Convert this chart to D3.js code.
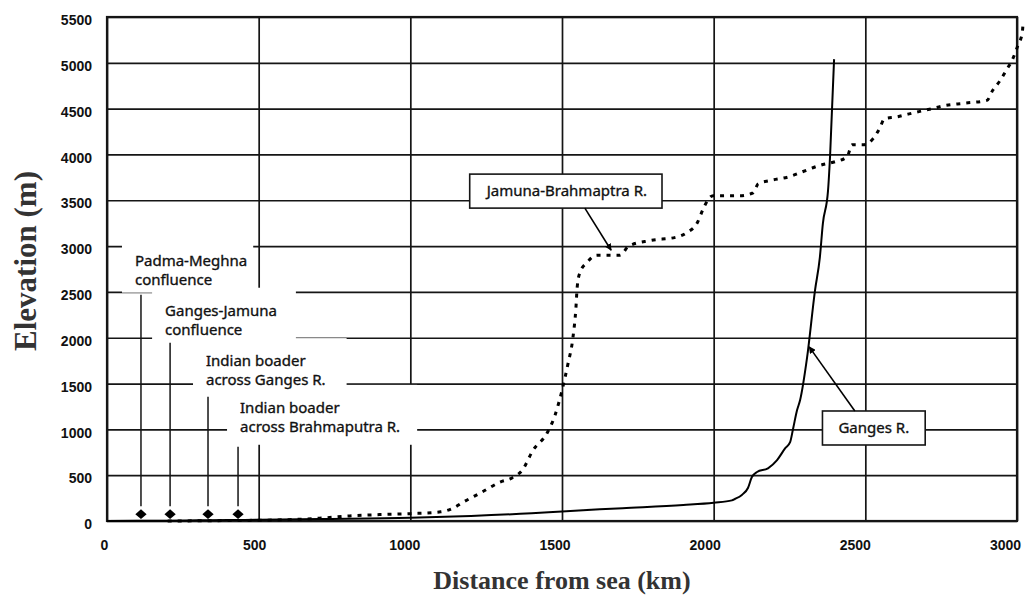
<!DOCTYPE html>
<meta charset="utf-8">
<style>
    body { margin: 0; background: #fff; }
    svg { display: block; }
</style>

<script src="https://cdn.jsdelivr.net/npm/d3@7"></script>

<svg id="chart" width="1031" height="595"></svg>

<script>

// Data (distance from sea in km, elevation in m)

var xTicks = [0, 500, 1000, 1500, 2000, 2500, 3000];
var yTicks = [0, 500, 1000, 1500, 2000, 2500, 3000, 3500, 4000, 4500, 5000, 5500];

var gangesKm   = [0, 100, 200, 300, 400, 500, 700, 1000, 1200, 1400, 1500, 1700, 1900, 2000, 2060,
                  2070, 2093, 2113, 2126, 2143, 2179, 2209, 2236, 2252, 2262, 2275, 2285, 2308,
                  2334, 2350, 2360, 2377, 2384, 2397];
var gangesElev = [0, 2, 4, 7, 10, 14, 22, 35, 55, 85, 105, 140, 175, 200, 225,
                  240, 285, 360, 480, 535, 575, 665, 795, 860, 1010, 1210, 1320, 1785,
                  2515, 2875, 3245, 3605, 4000, 5040];

var jamunaKm   = [200, 300, 400, 500, 600, 700, 800, 900, 1000, 1100, 1141, 1174, 1236, 1296,
                  1335, 1369, 1405, 1451, 1477, 1500, 1520, 1536, 1546, 1550, 1559, 1582, 1615,
                  1691, 1720, 1790, 1880, 1913, 1946, 1966, 1980, 1998, 2087, 2130, 2147, 2186,
                  2252, 2292, 2327, 2360, 2400, 2440, 2456, 2492, 2525, 2548, 2563, 2604, 2641,
                  2680, 2720, 2756, 2829, 2901, 2920, 2944, 2967, 2987, 3004, 3017, 3020];
var jamunaElev = [0, 2, 5, 8, 15, 30, 55, 70, 80, 100, 140, 205, 315, 425,
                  470, 555, 775, 960, 1155, 1425, 1720, 2000, 2330, 2550, 2710, 2820, 2900,
                  2900, 3000, 3060, 3100, 3150, 3255, 3410, 3500, 3550, 3550, 3580, 3680, 3715,
                  3760, 3810, 3855, 3890, 3920, 3975, 4105, 4105, 4170, 4290, 4390, 4410, 4440,
                  4470, 4500, 4530, 4560, 4590, 4700, 4805, 4930, 5050, 5200, 5320, 5430];

// Point markers along the lower river, with their callout texts
var markerKm   = [112, 208, 333, 432];
var markerElev = [75, 75, 75, 75];
var markerText = [
    ['Padma-Meghna', 'confluence'],
    ['Ganges-Jamuna', 'confluence'],
    ['Indian boader', 'across Ganges R.'],
    ['Indian boader', 'across Brahmaputra R.']
];
var markerLabelElev = [2780, 2240, 1690, 1180];   // elevation of first text line baseline
var markerLineTop   = [2470, 1945, 1355, 810];    // where the leader line begins

var riverNames   = ['Jamuna-Brahmaptra R.', 'Ganges R.'];
var riverBoxKm   = [1516, 2528];      // box centres
var riverBoxEl   = [3600, 1015];
var riverArrowKm = [1662, 2315];      // arrow tips on the curves
var riverArrowEl = [2955, 1900];


// Setup

var svg = d3.select('svg#chart');

var plotLeft = 107, plotRight = 1017, plotTop = 17, plotBottom = 521;
var plotW = plotRight - plotLeft, plotH = plotBottom - plotTop;

var x = d3.scaleLinear().domain([0, 3000]).range([plotLeft, plotRight]);
var y = d3.scaleLinear().domain([0, 5500]).range([plotBottom, plotTop]);
// the original's distance labels sit on a slightly tighter pitch than its grid
var xLabel = d3.scaleLinear().domain([0, 3000]).range([104, 1005]);

var ink = '#151515';
var tickFont = '"Liberation Sans", Arial, sans-serif';

// Grid + tick labels through the axes

var yAxis = svg.append('g')
    .attr('transform', 'translate(' + plotLeft + ',0)')
    .call(d3.axisLeft(y).tickValues(yTicks).tickFormat(d3.format('d'))
        .tickSize(-plotW).tickPadding(15));

var xGrid = svg.append('g')
    .attr('transform', 'translate(0,' + plotBottom + ')')
    .call(d3.axisBottom(x).tickValues(xTicks).tickFormat('').tickSize(-plotH));

var xAxis = svg.append('g')
    .attr('transform', 'translate(0,' + plotBottom + ')')
    .call(d3.axisBottom(xLabel).tickValues(xTicks).tickFormat(d3.format('d'))
        .tickSize(0).tickPadding(19));

[xGrid, xAxis, yAxis].forEach(function (g) {
    g.select('.domain').remove();
    g.selectAll('.tick line').attr('stroke', ink).attr('stroke-width', 1.7);
    g.selectAll('.tick text')
        .attr('fill', '#111')
        .style('font-family', tickFont)
        .style('font-weight', 'bold')
        .style('font-size', '14px');
});
yAxis.selectAll('.tick text').attr('dy', '0.55em');

svg.append('rect')
    .attr('x', plotLeft).attr('y', plotTop)
    .attr('width', plotW).attr('height', plotH)
    .attr('fill', 'none').attr('stroke', ink).attr('stroke-width', 2.2);


// Marker callouts (white boxes hide the grid behind the text)

var padRight = [6, 19, 21, 17];
var textShift = [6, 5, 2, -2];
var labelFont = '"Noto Sans", "DejaVu Sans", sans-serif';

var boxLayer = svg.append('g');
var textLayer = svg.append('g');

markerText.forEach(function (lines, i) {
    var tx = x(markerKm[i]) - textShift[i];
    var ty = y(markerLabelElev[i]);
    var box = boxLayer.append('rect').attr('fill', '#fff');
    var t = textLayer.append('text')
        .attr('x', tx).attr('y', ty)
        .style('font-family', labelFont)
        .style('font-size', '15px')
        .attr('fill', '#111')
        .attr('stroke', '#111').attr('stroke-width', 0.35);
    lines.forEach(function (s, j) {
        t.append('tspan').attr('x', tx).attr('dy', j === 0 ? 0 : 19).text(s);
    });
    var bb = t.node().getBBox();
    box.attr('x', bb.x - 13).attr('y', bb.y - 12)
        .attr('width', bb.width + 13 + padRight[i])
        .attr('height', y(markerLineTop[i]) - 2 - (bb.y - 12));

    svg.append('line')
        .attr('x1', x(markerKm[i])).attr('x2', x(markerKm[i]))
        .attr('y1', y(markerLineTop[i])).attr('y2', y(markerElev[i]) - 8)
        .attr('stroke', ink).attr('stroke-width', 1.5);
});

svg.selectAll('path.marker')
    .data(markerKm)
    .enter().append('path')
    .attr('class', 'marker')
    .attr('d', d3.symbol().type(d3.symbolSquare).size(58))
    .attr('transform', function (d, i) {
        return 'translate(' + x(d) + ',' + y(markerElev[i]) + ') scale(1.05,0.9) rotate(45)';
    })
    .attr('fill', '#000');


// River profiles

var line = d3.line()
    .x(function (d) { return x(d[0]); })
    .y(function (d) { return y(d[1]); })
    .curve(d3.curveMonotoneX);

svg.append('path')
    .datum(d3.zip(gangesKm, gangesElev))
    .attr('d', line)
    .attr('fill', 'none')
    .attr('stroke', '#000')
    .attr('stroke-width', 2);

svg.append('path')
    .datum(d3.zip(jamunaKm, jamunaElev))
    .attr('d', line)
    .attr('fill', 'none')
    .attr('stroke', '#000')
    .attr('stroke-width', 3)
    .attr('stroke-dasharray', '4,6');


// River name boxes with arrows

svg.append('defs').append('marker')
    .attr('id', 'head')
    .attr('viewBox', '0 0 10 10')
    .attr('refX', 9).attr('refY', 5)
    .attr('markerWidth', 7).attr('markerHeight', 7)
    .attr('markerUnits', 'userSpaceOnUse')
    .attr('orient', 'auto')
    .append('path').attr('d', 'M0,0 L10,5 L0,10 Z').attr('fill', '#000');

riverNames.forEach(function (name, i) {
    var cx = x(riverBoxKm[i]), cy = y(riverBoxEl[i]);
    var t = svg.append('text')
        .attr('x', cx).attr('y', cy + 5)
        .attr('text-anchor', 'middle')
        .style('font-family', labelFont)
        .style('font-size', '15px')
        .attr('fill', '#111')
        .attr('stroke', '#111').attr('stroke-width', 0.35)
        .text(name);
    var bb = t.node().getBBox();
    var padX = i === 0 ? 15 : 16;
    var bx = bb.x - padX, bw = bb.width + 2 * padX, bh = 34, by = cy - 17;
    svg.insert('rect', function () { return t.node(); })
        .attr('x', bx).attr('y', by).attr('width', bw).attr('height', bh)
        .attr('fill', '#fff').attr('stroke', ink).attr('stroke-width', 1.6);

    var startX = i === 0 ? cx + 18 : cx - 19;
    var startY = i === 0 ? by + bh : by;
    svg.append('line')
        .attr('x1', startX).attr('y1', startY)
        .attr('x2', x(riverArrowKm[i])).attr('y2', y(riverArrowEl[i]))
        .attr('stroke', '#000').attr('stroke-width', 1.6)
        .attr('marker-end', 'url(#head)');
});


// Axis titles

svg.append('text')
    .attr('transform', 'translate(36,261) rotate(-90)')
    .attr('text-anchor', 'middle')
    .style('font-family', '"Liberation Serif", "Times New Roman", serif')
    .style('font-weight', 'bold')
    .style('font-size', '31px')
    .attr('fill', '#333')
    .text('Elevation (m)');

svg.append('text')
    .attr('x', 562).attr('y', 589)
    .attr('text-anchor', 'middle')
    .style('font-family', '"Liberation Serif", "Times New Roman", serif')
    .style('font-weight', 'bold')
    .style('font-size', '26px')
    .attr('fill', '#333')
    .text('Distance from sea (km)');

</script>
